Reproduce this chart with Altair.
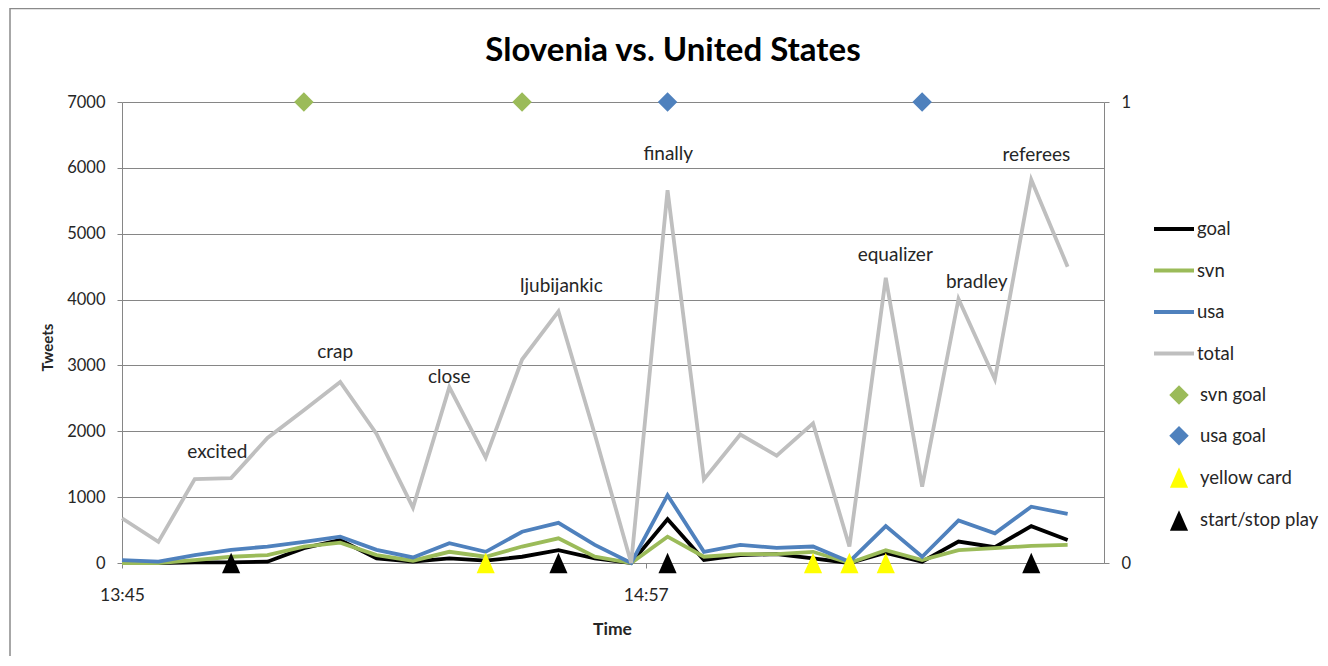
import altair as alt
import pandas as pd

# ---------------- data ----------------
times = ["13:45", "13:50", "13:55", "14:00", "14:05", "14:10", "14:15", "14:20", "14:25",
         "14:30", "14:35", "14:40", "14:45", "14:50", "14:55", "15:00", "15:05", "15:10",
         "15:15", "15:20", "15:25", "15:30", "15:35", "15:40", "15:45", "15:50", "15:55"]
total = [680, 320, 1275, 1290, 1900, 2320, 2750, 1960, 840, 2670, 1600, 3090, 3820, 1950,
         0, 5660, 1270, 1950, 1630, 2120, 250, 4330, 1160, 4010, 2790, 5820, 4500]
usa = [45, 20, 120, 200, 250, 320, 400, 200, 85, 300, 170, 475, 610, 275,
       0, 1030, 170, 275, 230, 250, 20, 560, 95, 645, 450, 855, 745]
svn = [0, 0, 45, 95, 120, 250, 310, 120, 35, 170, 95, 250, 375, 95,
       0, 400, 95, 135, 135, 170, 0, 195, 45, 195, 225, 260, 275]
goal = [0, 0, 10, 10, 20, 225, 350, 70, 20, 70, 35, 95, 195, 70,
        0, 665, 45, 120, 135, 70, 0, 155, 20, 325, 240, 560, 350]

series_names = ["goal", "svn", "usa", "total"]
series_colors = ["#000000", "#9BBB59", "#4F81BD", "#BFBFBF"]

svn_goal_times = ["14:10", "14:40"]
usa_goal_times = ["15:00", "15:35"]
yellow_card_times = ["14:35", "15:20", "15:25", "15:30"]
start_stop_times = ["14:00", "14:45", "15:00", "15:50"]

event_names = ["svn goal", "usa goal", "yellow card", "start/stop play"]
event_colors = ["#9BBB59", "#4F81BD", "#FFFF00", "#000000"]
event_levels = [1, 1, 0, 0]

annot_words = ["excited", "crap", "close", "ljubijankic", "finally", "equalizer", "bradley", "referees"]
annot_minutes = [13.1, 29.3, 45.0, 60.4, 75.1, 106.3, 117.5, 125.7]
annot_tweets = [1685, 3204, 2824, 4206, 6210, 4677, 4267, 6195]

x_tick_values = [0, 72]
x_tick_labels = ["13:45", "14:57"]

FONT = "Lato"
GRAY = "#868686"
TEXT = "#262626"


def to_min(t):
    h, m = map(int, t.split(":"))
    return h * 60 + m - (13 * 60 + 45)


# ---------------- tables ----------------
series_values = {"goal": goal, "svn": svn, "usa": usa, "total": total}
rows = []
for s in series_names:
    for t, v in zip(times, series_values[s]):
        rows.append({"series": s, "minute": to_min(t), "tweets": v})
lines_df = pd.DataFrame(rows)

ev_rows = []
for name, lvl, tl in zip(event_names, event_levels,
                         [svn_goal_times, usa_goal_times, yellow_card_times, start_stop_times]):
    for t in tl:
        ev_rows.append({"event": name, "minute": to_min(t), "level": lvl})
events_df = pd.DataFrame(ev_rows)

annot_df = pd.DataFrame({"word": annot_words, "minute": annot_minutes, "tweets": annot_tweets})

label_expr = " : ".join(
    f"datum.value == {v} ? '{l}'" for v, l in zip(x_tick_values, x_tick_labels)
) + " : ''"

x_axis = alt.Axis(values=x_tick_values, labelExpr=label_expr, title="Time",
                  grid=False, tickSize=5, tickColor=GRAY, domainColor=GRAY,
                  labelFont=FONT, labelFontSize=17.5, labelColor=TEXT, labelPadding=18,
                  labelFlush=False, labelOverlap=False,
                  titleFont=FONT, titleFontSize=17.5, titleFontWeight="bold", titleColor=TEXT,
                  titleX=490, titleY=66, titleBaseline="middle")
x_enc = alt.X("minute:Q", scale=alt.Scale(domain=[0, 135], nice=False, zero=False), axis=x_axis)

y_axis = alt.Axis(values=[0, 1000, 2000, 3000, 4000, 5000, 6000, 7000], format="d",
                  title="Tweets",
                  grid=True, gridColor=GRAY, gridWidth=1.2, tickSize=5, tickColor=GRAY,
                  domainColor=GRAY, labelFont=FONT, labelFontSize=16.5, labelColor=TEXT,
                  labelPadding=12, titleFont=FONT, titleFontSize=15, titleFontWeight="bold",
                  titleColor=TEXT, titleX=-75, titleY=245, titleBaseline="middle",
                  titleAngle=270)
y_scale = alt.Scale(domain=[0, 7000], nice=False)

lines = alt.Chart(lines_df).mark_line(strokeWidth=3.8, strokeJoin="miter").encode(
    x=x_enc,
    y=alt.Y("tweets:Q", scale=y_scale, axis=y_axis),
    color=alt.Color("series:N", scale=alt.Scale(domain=series_names, range=series_colors),
                    legend=alt.Legend(orient="none", legendX=1030, legendY=105, title=None,
                                      symbolType="stroke", symbolStrokeWidth=4,
                                      symbolSize=1600, padding=0, rowPadding=9.5,
                                      labelOffset=1, labelFont=FONT, labelFontSize=18.5,
                                      labelColor=TEXT)),
    detail="series:N",
)

annots = alt.Chart(annot_df).mark_text(font=FONT, fontSize=19, color=TEXT, baseline="middle").encode(
    x=x_enc,
    y=alt.Y("tweets:Q", scale=y_scale, axis=y_axis),
    text="word:N",
)

left_layer = alt.layer(lines, annots)

tri_path = "M0,-1.05L0.93,1.05L-0.93,1.05Z"
events = alt.Chart(events_df).mark_point(filled=True, opacity=1, strokeWidth=0).encode(
    x=x_enc,
    y=alt.Y("level:Q", scale=alt.Scale(domain=[0, 1], nice=False),
            axis=alt.Axis(orient="right", values=[0, 1], format="d", grid=False, title=None,
                          tickSize=5, tickColor=GRAY, domainColor=GRAY, labelFont=FONT,
                          labelFontSize=16.5, labelColor=TEXT, labelPadding=12)),
    color=alt.Color("event:N", scale=alt.Scale(domain=event_names, range=event_colors),
                    legend=alt.Legend(orient="none", legendX=1047, legendY=283, title=None,
                                      symbolSize=110, padding=0, rowPadding=20.8,
                                      labelOffset=11, labelFont=FONT, labelFontSize=18.5,
                                      labelColor=TEXT, symbolStrokeWidth=0)),
    shape=alt.Shape("event:N", scale=alt.Scale(domain=event_names,
                                                range=["diamond", "diamond", tri_path, tri_path])),
    size=alt.Size("event:N", scale=alt.Scale(domain=event_names, range=[380, 380, 400, 400]),
                  legend=None),
)

frame = alt.Chart(pd.DataFrame({"k": [0]})).mark_rect(
    fill=None, stroke="#8a8a8a", strokeWidth=1.5
).encode(x=alt.value(-112), x2=alt.value(1400), y=alt.value(-93.5), y2=alt.value(700))

chart = alt.layer(frame, left_layer, events).resolve_scale(
    y="independent", color="independent", shape="independent", size="independent"
).properties(
    width=982, height=461,
    autosize=alt.AutoSizeParams(type="none"),
    padding={"left": 114, "top": 94, "right": 216, "bottom": 93},
    title=alt.TitleParams("Slovenia vs. United States", font=FONT, fontSize=33,
                          fontWeight="bold", color="#000000", anchor="middle",
                          frame="group", dx=60, offset=0, baseline="alphabetic", dy=86),
).configure_view(stroke=None)

chart.save("out.html", embed_options={"renderer": "svg", "actions": False})
